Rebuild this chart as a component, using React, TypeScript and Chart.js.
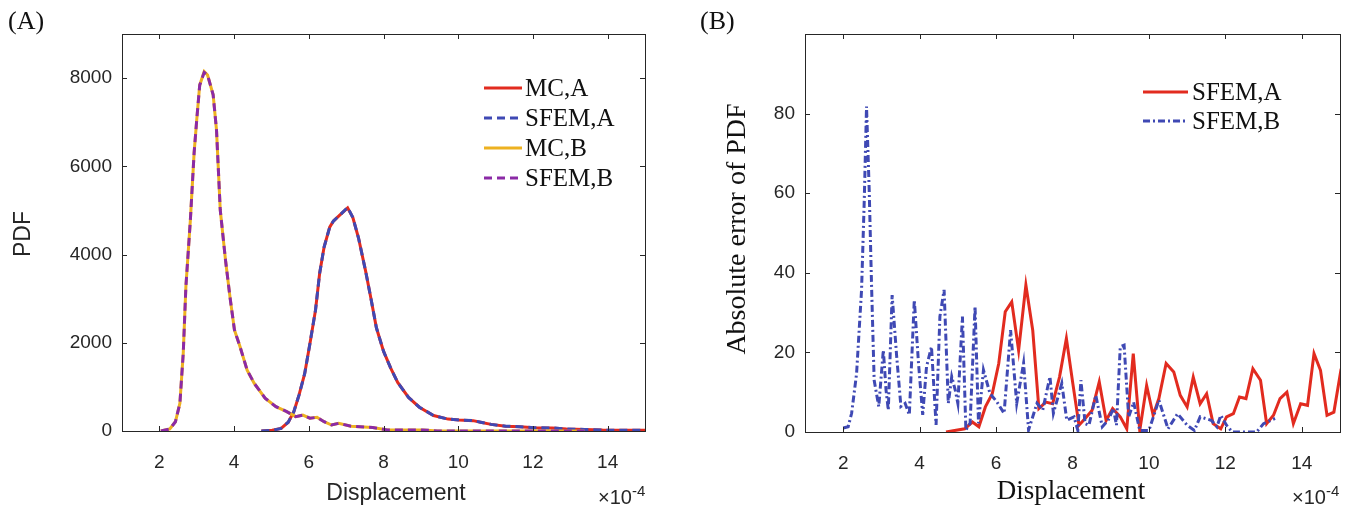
import React, { useEffect, useRef } from "react";
import { Chart, registerables } from "chart.js";
Chart.register(...registerables);

// ---------- Panel A data (PDF) ----------
const xCaseA = [4.73, 5.02, 5.26, 5.45, 5.6, 5.74, 5.89, 6.03, 6.18, 6.29, 6.41, 6.56, 6.66, 6.85, 7.04, 7.18, 7.33, 7.52, 7.66, 7.81, 8.0, 8.19, 8.38, 8.67, 8.96, 9.34, 9.73, 10.02, 10.4, 10.6, 10.88, 11.27, 11.65, 12.04, 12.52, 12.9, 13.38, 13.86, 14.34, 15.0];
const pdfMcA = [0, 15, 60, 200, 440, 820, 1300, 1980, 2740, 3570, 4170, 4620, 4760, 4910, 5060, 4840, 4380, 3630, 3020, 2340, 1810, 1430, 1100, 760, 540, 350, 270, 250, 235, 200, 150, 110, 95, 75, 70, 45, 35, 20, 15, 15];
const pdfSfemA = [0, 15, 60, 200, 440, 820, 1300, 1980, 2740, 3570, 4170, 4620, 4760, 4910, 5070, 4840, 4380, 3630, 3020, 2340, 1810, 1430, 1100, 760, 540, 350, 270, 250, 235, 200, 150, 110, 95, 75, 70, 45, 35, 20, 15, 15];
const xCaseB = [2.04, 2.28, 2.43, 2.55, 2.64, 2.71, 2.83, 2.93, 3.0, 3.08, 3.2, 3.29, 3.44, 3.53, 3.63, 3.77, 3.89, 4.01, 4.16, 4.35, 4.54, 4.83, 5.12, 5.41, 5.65, 5.84, 6.03, 6.22, 6.41, 6.61, 6.8, 7.13, 7.71, 8.1, 9.05, 9.44, 10.5, 11.5, 12.5, 13.38];
const pdfMcB = [0, 45, 210, 630, 1770, 3270, 4780, 6300, 7050, 7840, 8150, 8070, 7620, 6820, 5010, 3880, 3040, 2290, 1910, 1380, 1080, 745, 550, 440, 325, 360, 290, 310, 210, 135, 175, 110, 80, 25, 25, 0, 0, 0, 0, 0];
const pdfSfemB = [0, 45, 210, 630, 1770, 3270, 4780, 6300, 7050, 7840, 8130, 8070, 7620, 6820, 5010, 3880, 3040, 2290, 1910, 1380, 1080, 745, 550, 440, 325, 360, 290, 310, 210, 135, 175, 110, 80, 25, 25, 0, 0, 0, 0, 0];

// ---------- Panel B data (absolute error) ----------
const xErrA = [4.69, 5.18, 5.38, 5.55, 5.72, 5.9, 6.07, 6.24, 6.41, 6.59, 6.78, 6.96, 7.12, 7.3, 7.48, 7.66, 7.84, 8.01, 8.17, 8.33, 8.51, 8.7, 8.88, 9.05, 9.25, 9.42, 9.59, 9.76, 9.94, 10.11, 10.26, 10.45, 10.65, 10.82, 11.0, 11.16, 11.34, 11.51, 11.68, 11.88, 12.03, 12.21, 12.37, 12.54, 12.72, 12.92, 13.08, 13.26, 13.43, 13.61, 13.78, 13.97, 14.15, 14.32, 14.49, 14.66, 14.84, 15.03];
const errSfemA = [0, 0.8, 2.5, 1.3, 6.3, 9.6, 17.2, 30.2, 32.7, 20.5, 36.9, 25.5, 5.9, 7.5, 7.1, 13.8, 23.5, 12.1, 1.7, 3.4, 5.4, 12.6, 2.9, 5.9, 3.8, 0.8, 19.7, 0.4, 11.7, 4.2, 8.4, 17.2, 15.1, 9.2, 6.3, 13.8, 7.1, 9.6, 2.1, 0.8, 3.8, 4.6, 8.8, 8.4, 15.9, 13, 2.1, 4.2, 8.4, 10, 2.1, 7.1, 6.7, 19.7, 15.5, 4.2, 5, 15.9];
const xErrB = [2.0, 2.13, 2.22, 2.35, 2.48, 2.55, 2.61, 2.68, 2.74, 2.81, 2.93, 3.05, 3.12, 3.18, 3.28, 3.4, 3.51, 3.62, 3.73, 3.86, 3.97, 4.08, 4.18, 4.31, 4.43, 4.53, 4.64, 4.75, 4.84, 4.93, 5.0, 5.12, 5.21, 5.32, 5.45, 5.54, 5.67, 5.84, 6.02, 6.21, 6.38, 6.54, 6.72, 6.85, 7.07, 7.22, 7.41, 7.5, 7.72, 7.85, 8.04, 8.14, 8.22, 8.33, 8.43, 8.61, 8.78, 8.93, 9.07, 9.15, 9.25, 9.35, 9.47, 9.6, 9.76, 10.0, 10.26, 10.5, 10.75, 11.0, 11.19, 11.34, 11.64, 11.78, 11.88, 12.03, 12.18, 12.82, 13.0, 13.3];
const errSfemB = [1, 1.3, 4.7, 14.7, 35.7, 58, 81.8, 60.8, 37.4, 13, 6.4, 20.6, 10.6, 5.5, 34.4, 18.9, 6.4, 7.2, 4.3, 33.2, 17.3, 4.3, 16.4, 21.4, 1.8, 29, 35.7, 7.2, 13.9, 10.6, 7.2, 29, 0.5, 2.2, 31.5, 2.2, 15.6, 9.7, 7.6, 4.7, 25.6, 7.2, 17.3, 0.5, 7.2, 5.5, 13.9, 4.7, 12.2, 3, 3.8, 0.4, 13, 2.1, 1.7, 9.2, 1.3, 2.9, 5.9, 1.7, 21.4, 21.8, 3.8, 7.5, 0.4, 0.4, 8, 0.8, 4.6, 1.7, 0.4, 3.8, 2.9, 1.3, 4.2, 1.7, 0, 0, 2.1, 3.4];

// ---------- ticks ----------
const xTicks = [2, 4, 6, 8, 10, 12, 14];
const yTicksA = [0, 2000, 4000, 6000, 8000];
const yTicksB = [0, 20, 40, 60, 80];

const RED = "#e22b1f";
const BLUE = "#3f49b4";
const YELLOW = "#edb120";
const PURPLE = "#8b2aa6";
const AXIS = "#262626";
const SANS = "'Liberation Sans', Arial, sans-serif";
const SERIF = "'Liberation Serif', 'Times New Roman', serif";

const pts = (xs: number[], ys: number[]) => xs.map((x, i) => ({ x, y: ys[i] }));

const matlabBox = {
  id: "matlabBox",
  afterDatasetsDraw(chart: any, _args: any, opts: any) {
    const { ctx, chartArea: a, scales } = chart;
    ctx.save();
    ctx.strokeStyle = AXIS;
    ctx.lineWidth = 1;
    ctx.setLineDash([]);
    ctx.strokeRect(Math.round(a.left) + 0.5, Math.round(a.top) + 0.5, Math.round(a.right - a.left), Math.round(a.bottom - a.top));
    const L = 5;
    const line = (x1: number, y1: number, x2: number, y2: number) => {
      ctx.beginPath();
      ctx.moveTo(x1, y1);
      ctx.lineTo(x2, y2);
      ctx.stroke();
    };
    scales.x.ticks.forEach((t: any) => {
      const px = Math.round(scales.x.getPixelForValue(t.value)) + 0.5;
      line(px, a.bottom, px, a.bottom - L);
      line(px, a.top, px, a.top + L);
    });
    scales.y.ticks.forEach((t: any) => {
      const py = Math.round(scales.y.getPixelForValue(t.value)) + 0.5;
      line(a.left, py, a.left + L, py);
      line(a.right, py, a.right - L, py);
    });
    const lg = opts.legend;
    if (lg) {
      chart.data.datasets.forEach((ds: any, i: number) => {
        const y = lg.y + i * lg.dy;
        ctx.strokeStyle = ds.borderColor;
        ctx.lineWidth = ds.borderWidth;
        ctx.setLineDash(ds.borderDash || []);
        line(lg.x, y, lg.x + lg.len, y);
        ctx.setLineDash([]);
        ctx.fillStyle = "#111";
        ctx.font = lg.font;
        ctx.textBaseline = "middle";
        ctx.textAlign = "left";
        ctx.fillText(ds.label, lg.x + lg.len + lg.gap, y + 1);
      });
    }
    ctx.restore();
  },
};

function makeOptions(xT: number[], yT: number[], yMax: number, yWidth: number, xHeight: number, padRight: number, legend: any) {
  return {
    responsive: false,
    animation: false,
    devicePixelRatio: 1,
    layout: { padding: { left: 0, right: padRight, top: 34, bottom: 0 } },
    plugins: { legend: { display: false }, tooltip: { enabled: false }, matlabBox: { legend } },
    elements: { point: { radius: 0 }, line: { tension: 0 } },
    scales: {
      x: {
        type: "linear",
        min: 1,
        max: 15,
        grid: { display: false, drawTicks: false },
        border: { display: false },
        afterBuildTicks: (s: any) => { s.ticks = xT.map((v) => ({ value: v })); },
        afterFit: (s: any) => { s.height = xHeight; },
        ticks: { color: AXIS, padding: 20, font: { family: SANS, size: 19 }, maxRotation: 0, autoSkip: false, callback: (v: any) => String(v) },
      },
      y: {
        type: "linear",
        min: 0,
        max: yMax,
        grid: { display: false, drawTicks: false },
        border: { display: false },
        afterBuildTicks: (s: any) => { s.ticks = yT.map((v) => ({ value: v })); },
        afterFit: (s: any) => { s.width = yWidth; },
        ticks: { color: AXIS, padding: 10, font: { family: SANS, size: 19 }, autoSkip: false, callback: (v: any) => String(v) },
      },
    },
  };
}

function ChartA() {
  const ref = useRef<HTMLCanvasElement>(null);
  useEffect(() => {
    const chart = new Chart(ref.current as HTMLCanvasElement, {
      type: "line",
      data: {
        datasets: [
          { label: "MC,A", data: pts(xCaseA, pdfMcA), borderColor: RED, borderWidth: 3, order: 4 },
          { label: "SFEM,A", data: pts(xCaseA, pdfSfemA), borderColor: BLUE, borderWidth: 3, borderDash: [8, 5], order: 3 },
          { label: "MC,B", data: pts(xCaseB, pdfMcB), borderColor: YELLOW, borderWidth: 3, order: 2 },
          { label: "SFEM,B", data: pts(xCaseB, pdfSfemB), borderColor: PURPLE, borderWidth: 3, borderDash: [8, 5], order: 1 },
        ],
      } as any,
      options: makeOptions(xTicks, yTicksA, 9000, 122, 79, 35, { x: 484, y: 88, dy: 30, len: 38, gap: 3, font: `25px ${SERIF}` }) as any,
      plugins: [matlabBox as any],
    });
    return () => chart.destroy();
  }, []);
  return <canvas ref={ref} width={680} height={510} style={{ position: "absolute", left: 0, top: 0 }} />;
}

function ChartB() {
  const ref = useRef<HTMLCanvasElement>(null);
  useEffect(() => {
    const chart = new Chart(ref.current as HTMLCanvasElement, {
      type: "line",
      data: {
        datasets: [
          { label: "SFEM,A", data: pts(xErrA, errSfemA), borderColor: RED, borderWidth: 3, order: 2 },
          { label: "SFEM,B", data: pts(xErrB, errSfemB), borderColor: BLUE, borderWidth: 3, borderDash: [7, 3, 2, 3], order: 1 },
        ],
      } as any,
      options: makeOptions(xTicks, yTicksB, 100, 125, 78, 9, { x: 1143 - 680, y: 92, dy: 29, len: 45, gap: 4, font: `25px ${SERIF}` }) as any,
      plugins: [matlabBox as any],
    });
    return () => chart.destroy();
  }, []);
  return <canvas ref={ref} width={669} height={510} style={{ position: "absolute", left: 680, top: 0 }} />;
}

const abs = (extra: any): any => ({ position: "absolute", whiteSpace: "nowrap", color: "#111", ...extra });

export default function App() {
  return (
    <div style={{ position: "fixed", left: 0, top: 0, width: 1349, height: 510, background: "#fff", overflow: "hidden" }}>
      <ChartA />
      <ChartB />
      <div style={abs({ left: 8, top: 6, font: `26px ${SERIF}` })}>(A)</div>
      <div style={abs({ left: 700, top: 6, font: `26px ${SERIF}` })}>(B)</div>
      <div style={abs({ left: 22, top: 234, font: `23px ${SANS}`, color: AXIS, transform: "translate(-50%,-50%) rotate(-90deg)" })}>PDF</div>
      <div style={abs({ left: 396, top: 492, font: `23px ${SANS}`, color: AXIS, transform: "translate(-50%,-50%)" })}>Displacement</div>
      <div style={abs({ left: 1071, top: 490, font: `27px ${SERIF}`, transform: "translate(-50%,-50%)" })}>Displacement</div>
      <div style={abs({ left: 736, top: 229, font: `28px ${SERIF}`, transform: "translate(-50%,-50%) rotate(-90deg)" })}>Absolute error of PDF</div>
      <div style={abs({ left: 598, top: 482, font: `20px ${SANS}`, color: AXIS })}>×10<sup style={{ fontSize: 15, verticalAlign: "8px" }}>-4</sup></div>
      <div style={abs({ left: 1292, top: 482, font: `20px ${SANS}`, color: AXIS })}>×10<sup style={{ fontSize: 15, verticalAlign: "8px" }}>-4</sup></div>
    </div>
  );
}
